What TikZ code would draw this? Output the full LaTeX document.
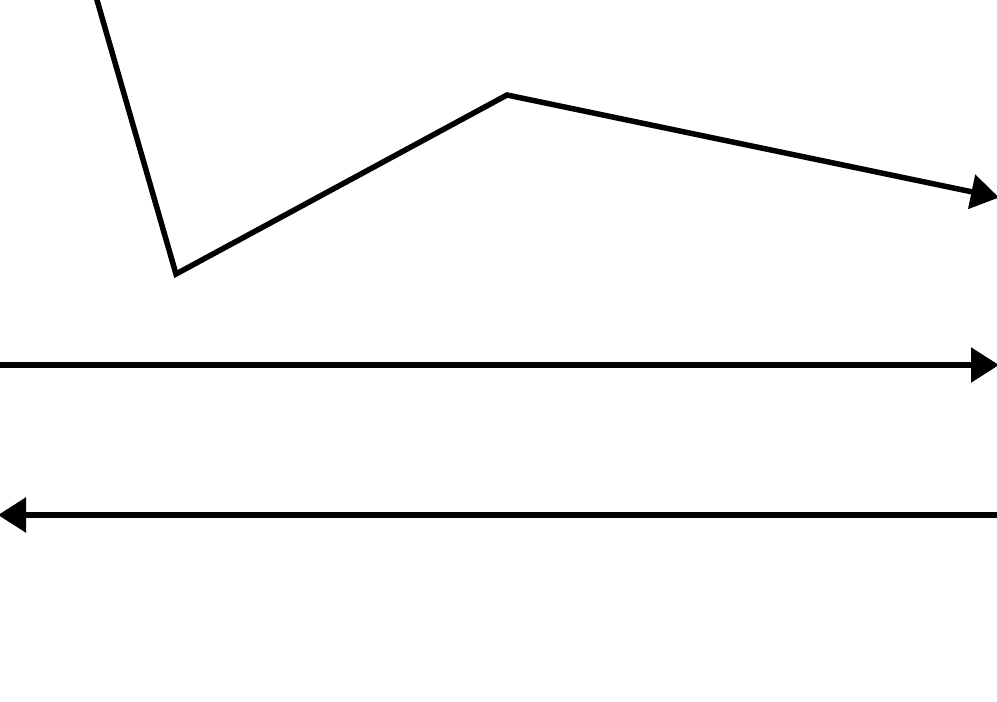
\documentclass[tikz,border=0pt]{standalone}
\usetikzlibrary{arrows.meta}
\begin{document}
\begin{tikzpicture}[x=1pt,y=-1pt,
  conn/.style={line width=5.5pt,black,-{Triangle[length=28pt,width=34pt]}}]
\useasboundingbox (0,0) rectangle (997,702);
\clip (0,0) rectangle (997,702);
\coordinate (p0) at (94.1,-10);
\coordinate (p1) at (176,274);
\coordinate (p2) at (507,95);
\coordinate (p3) at (999,197.5);
\coordinate (a0) at (-2,365);
\coordinate (a1) at (999,365);
\coordinate (b0) at (999,515);
\coordinate (b1) at (-2,515);
\draw[conn] (p0) -- (p1) -- (p2) -- (p3);
\draw[conn] (a0) -- (a1);
\draw[conn] (b0) -- (b1);
\end{tikzpicture}
\end{document}
